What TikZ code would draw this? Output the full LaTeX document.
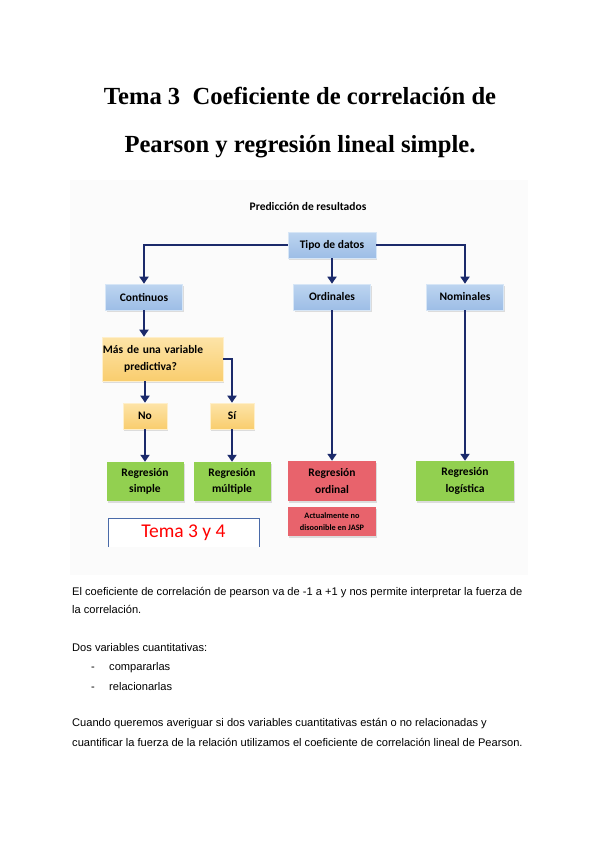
\documentclass[tikz,border=0pt]{standalone}
\usepackage{fontspec}
\setmainfont{Liberation Sans}
\newfontfamily\calib{Carlito}
\newfontfamily\titlefont{Liberation Serif}
\usetikzlibrary{arrows.meta,shadows}
\definecolor{navy}{HTML}{1B2A6B}
\definecolor{bluetop}{HTML}{BDD5F0}
\definecolor{bluebot}{HTML}{9DBDE6}
\definecolor{orgtop}{HTML}{FDE4A8}
\definecolor{orgbot}{HTML}{F9CD6E}
\definecolor{grn}{HTML}{92D050}
\definecolor{redbox}{HTML}{E8636C}
\definecolor{temaborder}{HTML}{4A6AA8}
\definecolor{bgpanel}{HTML}{FBFBFB}
\tikzset{
  box/.style={inner sep=1pt, align=center, font=\calib\bfseries\fontsize{11.5}{16.5}\selectfont,
    drop shadow={shadow xshift=1pt, shadow yshift=-1.5pt, opacity=0.25}},
  bluebox/.style={box, top color=bluetop, bottom color=bluebot, draw=bluetop!60!white, line width=0.6pt},
  orgbox/.style={box, top color=orgtop, bottom color=orgbot, draw=orgtop!60!white, line width=0.6pt},
  grnbox/.style={box, fill=grn},
  redbx/.style={box, fill=redbox},
  arr/.style={draw=navy, line width=2.3pt, -{Triangle[length=7pt,width=9pt]}},
  body/.style={anchor=base west, inner sep=0pt, font=\fontsize{11.1}{13}\selectfont},
}
\begin{document}
\begin{tikzpicture}[x=1pt,y=-1pt]
\useasboundingbox (0,0) rectangle (600,848);
\fill[white] (0,0) rectangle (600,848);
% title
\node[anchor=base, inner sep=0pt, font=\titlefont\bfseries\fontsize{24.6}{30}\selectfont] (t1) at (300,105) {Tema 3\ \ Coeficiente de correlación de};
\node[anchor=base, inner sep=0pt, font=\titlefont\bfseries\fontsize{24.6}{30}\selectfont] (t2) at (300,153) {Pearson y regresión lineal simple.};
% panel
\fill[bgpanel] (70,180) rectangle (528,575);
\node[font=\calib\bfseries\fontsize{11.5}{13}\selectfont, inner sep=0pt] (ttl) at (308,207) {Predicción de resultados};
% boxes
\node[bluebox, minimum width=88pt, minimum height=26pt] (tipo) at (332,245) {Tipo de datos};
\node[bluebox, minimum width=77pt, minimum height=26pt] (cont) at (144,297) {Continuos};
\node[bluebox, minimum width=77pt, minimum height=26pt] (ord) at (332,297) {Ordinales};
\node[bluebox, minimum width=77pt, minimum height=26pt] (nom) at (465,297) {Nominales};
\node[orgbox, minimum width=121pt, minimum height=44pt, text width=119pt] (mas) at (162.5,359) {\hspace*{-19pt}Más de una variable\\\hspace*{-24pt}predictiva?};
\node[orgbox, minimum width=44pt, minimum height=26pt] (no) at (145,416) {No};
\node[orgbox, minimum width=44pt, minimum height=26pt] (si) at (232,416) {Sí};
\node[grnbox, minimum width=77pt, minimum height=39pt] (rs) at (145,481.5) {Regresión\\simple};
\node[grnbox, minimum width=77pt, minimum height=39pt] (rm) at (232,481.5) {Regresión\\múltiple};
\node[redbx, minimum width=88pt, minimum height=40pt] (ro) at (332,481) {Regresión\\ordinal};
\node[redbx, minimum width=88pt, minimum height=29pt, font=\calib\bfseries\fontsize{8.3}{12}\selectfont] (act) at (332,521.5) {Actualmente no\\disoonible en JASP};
\node[grnbox, minimum width=98pt, minimum height=40pt] (rl) at (465,481) {Regresión\\logística};
\node[fill=white, minimum width=151pt, minimum height=29pt, inner sep=0pt,
      font=\calib\fontsize{19.5}{22}\selectfont, text=red] (tema) at (183.5,532.5) {Tema 3 y 4};
\draw[temaborder, line width=0.6pt] (tema.south west) -- (tema.north west) -- (tema.north east) -- (tema.south east);
% connectors
\draw[arr] (tipo.west) -| (cont.north);
\draw[arr] (tipo.east) -| (nom.north);
\draw[arr] (tipo.south) -- (ord.north);
\draw[arr] (cont.south) -- (cont.south |- mas.north);
\draw[arr] (no.north |- mas.south) -- (no.north);
\draw[arr] (mas.east) -| (si.north);
\draw[arr] (no.south) -- (rs.north);
\draw[arr] (si.south) -- (rm.north);
\draw[arr] (ord.south) -- (ro.north);
\draw[arr] (nom.south) -- (rl.north);
% body text
\node[body] (p1) at (72,595) {El coeficiente de correlación de pearson va de -1 a +1 y nos permite interpretar la fuerza de};
\node[body] (p2) at (72,613) {la correlación.};
\node[body] (p3) at (72,651) {Dos variables cuantitativas:};
\node[body] (d1) at (91,670) {-};
\node[body] (l1) at (109,670) {compararlas};
\node[body] (d2) at (91,690) {-};
\node[body] (l2) at (109,690) {relacionarlas};
\node[body] (p4) at (72,726) {Cuando queremos averiguar si dos variables cuantitativas están o no relacionadas y};
\node[body] (p5) at (72,746) {cuantificar la fuerza de la relación utilizamos el coeficiente de correlación lineal de Pearson.};
\end{tikzpicture}
\end{document}
